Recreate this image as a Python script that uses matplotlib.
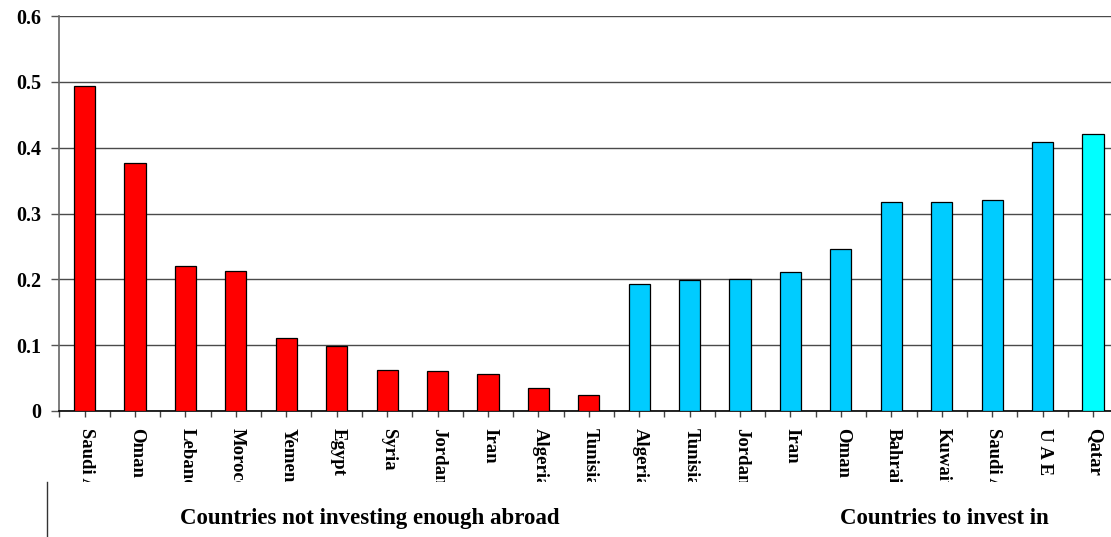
import matplotlib
matplotlib.use("Agg")
import matplotlib.pyplot as plt
from matplotlib.lines import Line2D
from matplotlib.transforms import Bbox, TransformedBbox

# Countries that are not investing enough abroad, then destination countries
countries = ["Saudi Arabia", "Oman", "Lebanon", "Morocco", "Yemen", "Egypt",
             "Syria", "Jordan", "Iran", "Algeria", "Tunisia",
             "Algeria", "Tunisia", "Jordan", "Iran", "Oman", "Bahrain",
             "Kuwait", "Saudi Arabia", "U A E", "Qatar"]
values = [0.493, 0.377, 0.221, 0.212, 0.111, 0.098, 0.063, 0.061, 0.056,
          0.035, 0.025,
          0.193, 0.199, 0.201, 0.211, 0.246, 0.317, 0.318, 0.320, 0.408, 0.421]
groups = ["out"] * 11 + ["in"] * 9 + ["top"]
group_titles = ["Countries not investing enough abroad", "Countries to invest in"]
yticks = [0, 0.1, 0.2, 0.3, 0.4, 0.5, 0.6]
ytick_labels = ["0", "0.1", "0.2", "0.3", "0.4", "0.5", "0.6"]

palette = {"out": "#FF0000", "in": "#00CCFF", "top": "#00FFFF"}
serif = "Liberation Serif"

W, H = 1111, 537
fig = plt.figure(figsize=(W / 100, H / 100), dpi=100)
fig.patch.set_facecolor("white")

left_px, right_px, top_px, zero_px = 59.4, 1118.2, 16, 411
ax = fig.add_axes([left_px / W, (H - zero_px) / H,
                   (right_px - left_px) / W, (zero_px - top_px) / H])

x = list(range(len(countries)))
ax.bar(x, values, width=0.42, color=[palette[g] for g in groups],
       edgecolor="black", linewidth=0.9, zorder=3)

ax.set_xlim(-0.5, len(countries) - 0.5)
ax.set_ylim(0, 0.6)
ax.set_yticks(yticks)
ax.set_yticklabels(ytick_labels, fontfamily=serif, fontweight="bold", fontsize=14.5)
ax.yaxis.grid(True, color="#4a4a4a", linewidth=1.0, zorder=0)
ax.tick_params(axis="y", length=5.5, width=1.0, color="#555555", pad=7.5)

# ticks under the axis at both category centres and category boundaries
ax.set_xticks(x)
ax.set_xticklabels([])
ax.set_xticks([i - 0.5 for i in range(len(countries) + 1)], minor=True)
ax.tick_params(axis="x", which="both", length=4.5, width=1.0, color="#444444")

for side in ("top", "right"):
    ax.spines[side].set_visible(False)
ax.spines["left"].set_color("#666666")
ax.spines["left"].set_linewidth(1.2)
ax.spines["bottom"].set_color("black")
ax.spines["bottom"].set_linewidth(1.2)

# rotated country names, cut off at a fixed depth below the axis
label_top = (H - 427.5) / H
clip = TransformedBbox(Bbox([[0, (H - 482) / H], [1, (H - 420) / H]]),
                       fig.transFigure)
for i, name in enumerate(countries):
    t = ax.text(i + 0.03, 0, name, rotation=270, ha="center", va="top",
                fontfamily=serif, fontweight="bold", fontsize=13.5,
                transform=ax.get_xaxis_transform(), clip_on=True)
    t.set_y((label_top - (H - zero_px) / H) / ((zero_px - top_px) / H))
    t.set_clip_box(clip)

# group titles
fig.text(369.5 / W, (H - 524) / H, group_titles[0], ha="center", va="baseline",
         fontfamily=serif, fontweight="bold", fontsize=16.5)
fig.text(944.5 / W, (H - 524) / H, group_titles[1], ha="center", va="baseline",
         fontfamily=serif, fontweight="bold", fontsize=16.5)

# divider at the lower left
fig.add_artist(Line2D([46.5 / W, 46.5 / W], [0, (H - 482) / H],
                      transform=fig.transFigure, color="#333333", linewidth=1.0))

fig.savefig("out.png", dpi=100, facecolor="white")
